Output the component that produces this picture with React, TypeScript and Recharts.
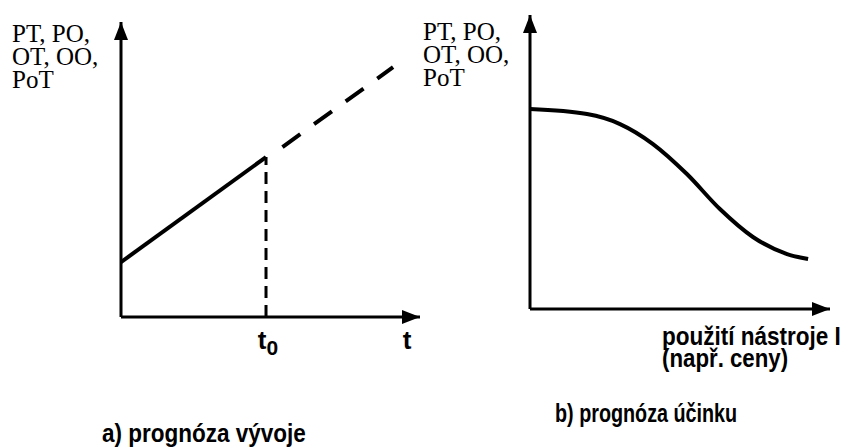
import { LineChart, Line, XAxis, YAxis, ReferenceLine, ReferenceDot } from "recharts";

// a) prognóza vývoje
const pastA = [
  { t: 0, v: 1.86 },
  { t: 4.85, v: 5.42 },
];
const forecastA = [
  { t: 5.4, v: 5.76 },
  { t: 9.1, v: 8.47 },
];
const t0 = 4.85;
const ticksA = [t0, 10];

// b) prognóza účinku
const effectB = [
  { p: 0, v: 6.8 },
  { p: 1.9, v: 6.63 },
  { p: 3.0, v: 6.29 },
  { p: 4.1, v: 5.61 },
  { p: 5.23, v: 4.59 },
  { p: 6.33, v: 3.4 },
  { p: 7.43, v: 2.45 },
  { p: 8.57, v: 1.87 },
  { p: 9.27, v: 1.7 },
];

const yLabelLines = ["PT, PO,", "OT, OO,", "PoT"];

const serif = "'Liberation Serif', 'Times New Roman', serif";
const sans = "'Liberation Sans', Arial, sans-serif";

const UpArrow = (props: any) => {
  const { cx, cy } = props;
  return <polygon points={`${cx},${cy} ${cx - 7},${cy + 18} ${cx + 7},${cy + 18}`} fill="#000" />;
};

const RightArrow = (props: any) => {
  const { cx, cy } = props;
  return <polygon points={`${cx},${cy} ${cx - 18},${cy - 7} ${cx - 18},${cy + 7}`} fill="#000" />;
};

const TickA = (props: any) => {
  const { x, y, payload } = props;
  const last = payload.value === 10;
  return (
    <text
      x={last ? x - 13 : x + 2}
      y={y + 32}
      textAnchor="middle"
      fontFamily={sans}
      fontWeight="bold"
      fontSize={26}
      fill="#000"
    >
      t
      {!last && (
        <tspan dy={6} fontSize={21}>
          0
        </tspan>
      )}
    </text>
  );
};

const YLabel = ({ left, top }: { left: number; top: number }) => (
  <div
    style={{
      position: "absolute",
      left,
      top,
      fontFamily: serif,
      fontSize: 25,
      lineHeight: "23px",
      color: "#000",
      whiteSpace: "nowrap",
    }}
  >
    {yLabelLines.map((l) => (
      <div key={l}>{l}</div>
    ))}
  </div>
);

const textStyle = (left: number, top: number, size: number, sx = 1): React.CSSProperties => ({
  position: "absolute",
  left,
  top,
  fontFamily: sans,
  fontWeight: "bold",
  fontSize: size,
  lineHeight: `${size}px`,
  color: "#000",
  whiteSpace: "nowrap",
  transform: `scaleX(${sx})`,
  transformOrigin: "left top",
});

const axisLine = { stroke: "#000", strokeWidth: 3 };

export default function App() {
  return (
    <div style={{ position: "absolute", left: 0, top: 0, width: 845, height: 447, background: "#fff" }}>
      <div style={{ position: "absolute", left: 0, top: 0 }}>
        <LineChart width={430} height={447} margin={{ top: 22, right: 10, bottom: 90, left: 121 }}>
          <XAxis
            type="number"
            dataKey="t"
            domain={[0, 10]}
            ticks={ticksA}
            tickLine={false}
            tickSize={0}
            tickMargin={0}
            axisLine={axisLine}
            tick={<TickA />}
            height={40}
            allowDataOverflow
          />
          <YAxis type="number" domain={[0, 10]} hide />
          <ReferenceLine x={0} stroke="#000" strokeWidth={3} ifOverflow="visible" />
          <ReferenceLine
            segment={[
              { x: t0, y: 0 },
              { x: t0, y: pastA[1].v },
            ]}
            stroke="#000"
            strokeWidth={3}
            strokeDasharray="12 7"
          />
          <Line
            data={pastA}
            dataKey="v"
            stroke="#000"
            strokeWidth={4}
            dot={false}
            activeDot={false}
            isAnimationActive={false}
          />
          <Line
            data={forecastA}
            dataKey="v"
            stroke="#000"
            strokeWidth={4}
            strokeDasharray="22 17"
            dot={false}
            activeDot={false}
            isAnimationActive={false}
          />
          <ReferenceDot x={0} y={10} ifOverflow="visible" shape={<UpArrow />} />
          <ReferenceDot x={10} y={0} ifOverflow="visible" shape={<RightArrow />} />
        </LineChart>
      </div>

      <div style={{ position: "absolute", left: 0, top: 0 }}>
        <LineChart width={845} height={447} margin={{ top: 15, right: 15, bottom: 98, left: 530 }}>
          <XAxis
            type="number"
            dataKey="p"
            domain={[0, 10]}
            tick={false}
            tickLine={false}
            axisLine={axisLine}
            height={40}
          />
          <YAxis type="number" domain={[0, 10]} hide />
          <ReferenceLine x={0} stroke="#000" strokeWidth={3} ifOverflow="visible" />
          <Line
            data={effectB}
            dataKey="v"
            type="monotone"
            stroke="#000"
            strokeWidth={4}
            dot={false}
            activeDot={false}
            isAnimationActive={false}
          />
          <ReferenceDot x={0} y={10} ifOverflow="visible" shape={<UpArrow />} />
          <ReferenceDot x={10} y={0} ifOverflow="visible" shape={<RightArrow />} />
        </LineChart>
      </div>

      <YLabel left={12} top={22} />
      <YLabel left={423} top={20} />

      <div style={textStyle(662, 324, 25, 0.9)}>použití nástroje I</div>
      <div style={textStyle(662, 346, 25, 0.89)}>(např. ceny)</div>

      <div style={textStyle(102, 421, 25, 0.9)}>a) prognóza vývoje</div>
      <div style={textStyle(555, 401, 25, 0.79)}>b) prognóza účinku</div>
    </div>
  );
}
